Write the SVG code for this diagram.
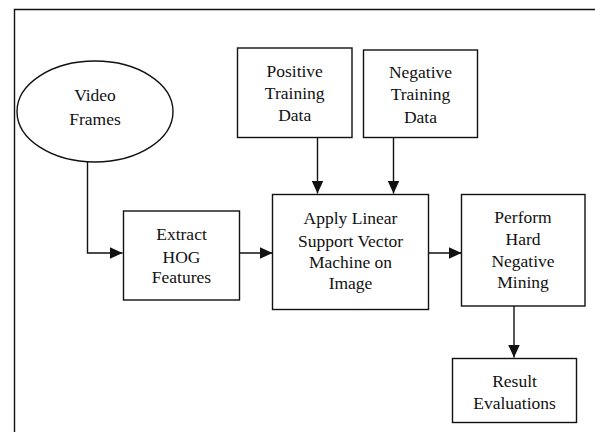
<svg xmlns="http://www.w3.org/2000/svg" width="595" height="432" viewBox="0 0 595 432">
<style>
.box{fill:#fff;stroke:#111;stroke-width:1.4}
.ln{fill:none;stroke:#111;stroke-width:1.4}
text{font-family:"Liberation Serif","Times New Roman",serif;font-size:17.5px;fill:#111;text-anchor:middle}
</style>
<defs>
<marker id="ah" markerWidth="13" markerHeight="12" refX="13" refY="6" orient="auto" markerUnits="userSpaceOnUse">
<path d="M0,0 L13,6 L0,12 Z" fill="#111"/>
</marker>
</defs>
<rect width="595" height="432" fill="#fff"/>
<path class="ln" d="M14.5,432 V9.5 H600"/>
<g id="connectors">
<path class="ln" d="M87.5,162 V253 H122.5" marker-end="url(#ah)"/>
<path class="ln" d="M239.5,253 H272.5" marker-end="url(#ah)"/>
<path class="ln" d="M428.5,253 H461.5" marker-end="url(#ah)"/>
<path class="ln" d="M317.5,137.5 V193.5" marker-end="url(#ah)"/>
<path class="ln" d="M393.5,137.5 V193.5" marker-end="url(#ah)"/>
<path class="ln" d="M514,306 V357.5" marker-end="url(#ah)"/>
</g>
<g id="video-frames">
<ellipse class="box" cx="95" cy="111.5" rx="78" ry="50.5"/>
<text x="95" y="100.5">Video</text>
<text x="95" y="125">Frames</text>
</g>
<g id="positive-training-data">
<rect class="box" x="237.5" y="48" width="114.5" height="89.5"/>
<text x="294.7" y="76.5">Positive</text>
<text x="294.7" y="99">Training</text>
<text x="294.7" y="121">Data</text>
</g>
<g id="negative-training-data">
<rect class="box" x="363.5" y="50" width="114" height="87.5"/>
<text x="420.5" y="77.5">Negative</text>
<text x="420.5" y="100">Training</text>
<text x="420.5" y="122.5">Data</text>
</g>
<g id="extract-hog">
<rect class="box" x="123.5" y="211" width="116" height="89"/>
<text x="181.5" y="240">Extract</text>
<text x="181.5" y="262.5">HOG</text>
<text x="181.5" y="283">Features</text>
</g>
<g id="apply-svm">
<rect class="box" x="272.5" y="194.5" width="156" height="115"/>
<text x="350.5" y="224">Apply Linear</text>
<text x="350.5" y="246.5">Support Vector</text>
<text x="350.5" y="267.5">Machine on</text>
<text x="350.5" y="288.5">Image</text>
</g>
<g id="hard-negative-mining">
<rect class="box" x="461.5" y="194.5" width="123.5" height="111.5"/>
<text x="523" y="223">Perform</text>
<text x="523" y="245">Hard</text>
<text x="523" y="267">Negative</text>
<text x="523" y="288">Mining</text>
</g>
<g id="result-evaluations">
<rect class="box" x="452.5" y="358.5" width="124" height="64"/>
<text x="514.5" y="386.5">Result</text>
<text x="514.5" y="408.5">Evaluations</text>
</g>
</svg>
